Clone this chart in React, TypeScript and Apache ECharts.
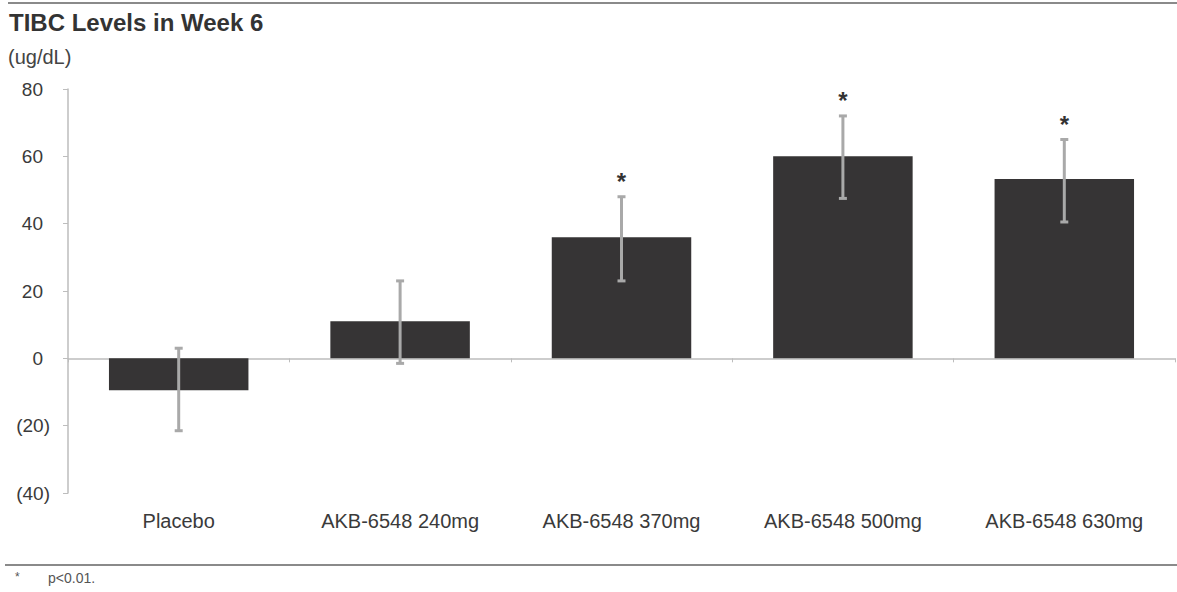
import React, { useEffect, useRef } from "react";
import * as echarts from "echarts";

const categories = [
  "Placebo",
  "AKB-6548 240mg",
  "AKB-6548 370mg",
  "AKB-6548 500mg",
  "AKB-6548 630mg",
];
const meanChange = [-9.5, 11, 36, 60, 53.3];
const errorLow = [-21.5, -1.5, 23, 47.5, 40.5];
const errorHigh = [3, 23, 48, 72, 65];
const significant = [false, false, true, true, true];

const FONT = "'Liberation Sans', Arial, sans-serif";

export default function App() {
  const ref = useRef<HTMLDivElement>(null);
  useEffect(() => {
    if (!ref.current) return;
    const chart = echarts.init(ref.current, null, { renderer: "svg" });
    const errData = categories.map((_, i) => [i, errorLow[i], errorHigh[i], significant[i] ? 1 : 0]);
    chart.setOption({
      animation: false,
      textStyle: { fontFamily: FONT },
      grid: { left: 68, right: 2, top: 89, bottom: 99 },
      graphic: [
        { type: "line", shape: { x1: 8, y1: 3, x2: 1177, y2: 3 }, style: { stroke: "#8a8a8a", lineWidth: 2 } },
        { type: "line", shape: { x1: 5, y1: 565, x2: 1177, y2: 565 }, style: { stroke: "#8a8a8a", lineWidth: 2 } },
        { type: "text", left: 9, top: 10, style: { text: "TIBC Levels in Week 6", font: `bold 24px ${FONT}`, fill: "#333" } },
        { type: "text", left: 8, top: 47, style: { text: "(ug/dL)", font: `20px ${FONT}`, fill: "#444" } },
        { type: "text", left: 15, top: 571, style: { text: "*", font: `12px ${FONT}`, fill: "#555" } },
        { type: "text", left: 48, top: 571, style: { text: "p<0.01.", font: `14px ${FONT}`, fill: "#555" } },
      ],
      xAxis: [
        {
          type: "category",
          data: categories,
          axisLine: { onZero: true, lineStyle: { color: "#bdbdbd", width: 1.5 } },
          axisTick: { show: true, length: 4, lineStyle: { color: "#bdbdbd" } },
          axisLabel: { show: false },
        },
        {
          type: "category",
          data: categories,
          position: "bottom",
          axisLine: { show: false, onZero: false },
          axisTick: { show: false },
          axisLabel: { show: true, margin: 18, fontSize: 20, color: "#3a3a3a", fontFamily: FONT },
        },
      ],
      yAxis: {
        type: "value",
        min: -40,
        max: 80,
        interval: 20,
        splitLine: { show: false },
        axisLine: { show: true, lineStyle: { color: "#bdbdbd", width: 1.5 } },
        axisTick: { show: true, length: 5, lineStyle: { color: "#bdbdbd" } },
        axisLabel: {
          margin: 18,
          fontSize: 19,
          color: "#3a3a3a",
          fontFamily: FONT,
          formatter: (v: number) => (v < 0 ? `{n|(${-v})}` : `{p|${v}}`),
          rich: {
            n: { fontSize: 19, color: "#3a3a3a", fontFamily: FONT },
            p: { fontSize: 19, color: "#3a3a3a", fontFamily: FONT, padding: [0, 7, 0, 0] },
          },
        },
      },
      series: [
        {
          type: "bar",
          data: meanChange,
          barWidth: "63%",
          itemStyle: { color: "#363435" },
          xAxisIndex: 0,
        },
        {
          type: "custom",
          xAxisIndex: 0,
          yAxisIndex: 0,
          z: 5,
          data: errData,
          renderItem: (params: any, api: any) => {
            const idx = api.value(0);
            const lo = api.coord([idx, api.value(1)]);
            const hi = api.coord([idx, api.value(2)]);
            const sig = api.value(3);
            const x = hi[0];
            const cap = 4;
            const style = { stroke: "#a9a9a9", lineWidth: 3 };
            const children: any[] = [
              { type: "line", shape: { x1: x, y1: hi[1], x2: x, y2: lo[1] }, style },
              { type: "line", shape: { x1: x - cap, y1: hi[1], x2: x + cap, y2: hi[1] }, style },
              { type: "line", shape: { x1: x - cap, y1: lo[1], x2: x + cap, y2: lo[1] }, style },
            ];
            if (sig) {
              children.push({
                type: "text",
                x: x,
                y: hi[1] - 15,
                style: {
                  text: "*",
                  font: `bold 24px ${FONT}`,
                  fill: "#333",
                  align: "center",
                  verticalAlign: "middle",
                },
              });
            }
            return { type: "group", children };
          },
        },
      ],
    });
    return () => chart.dispose();
  }, []);
  return (
    <div
      ref={ref}
      style={{ position: "fixed", left: 0, top: 0, width: 1177, height: 592, background: "#fff" }}
    />
  );
}
